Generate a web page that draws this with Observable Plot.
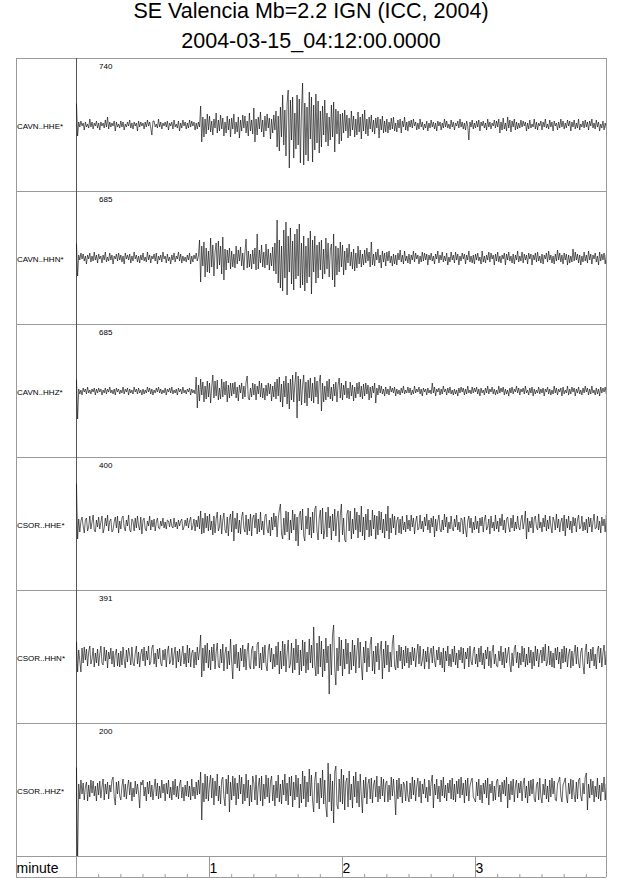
<!DOCTYPE html>
<html>
<head>
<meta charset="utf-8">
<script src="https://cdn.jsdelivr.net/npm/d3@7"></script>
<script src="https://cdn.jsdelivr.net/npm/@observablehq/plot@0.6"></script>
<style>
  body { margin: 0; background: #fff; font-family: "Liberation Sans", Arial, sans-serif; }
  #title { width: 622px; height: 57px; text-align: center; font-size: 21.5px; line-height: 30px; color: #000; }
  #title .inner { position: relative; top: -4px; }
</style>
</head>
<body>
<div id="title"><div class="inner"><div>SE Valencia Mb=2.2 IGN (ICC, 2004)</div><div>2004-03-15_04:12:00.0000</div></div></div>
<div id="chart"></div>
<script>
// ---- data (amplitudes, display units, one sample every 0.5 s; one row = 10 s) ----
const stations = ["CAVN..HHE*", "CAVN..HHN*", "CAVN..HHZ*", "CSOR..HHE*", "CSOR..HHN*", "CSOR..HHZ*"];
const peakLabels = [740, 685, 685, 400, 391, 200];
const sampleSeconds = 0.5;
const majorTickMinutes = [1, 2, 3];
const axisTitle = "minute";

const cavnHHE = [
  21,-11,3,-2,4,-1,2,-5,3,-2,1,-3,6,-2,3,-4,2,-1,4,-3,
  2,-5,3,-1,2,-3,5,-2,8,-4,3,-2,2,-1,4,-6,3,-2,1,-3,
  4,-2,3,-5,1,-2,3,-1,5,-3,2,-4,3,-1,2,-6,4,-2,3,-1,
  2,-4,3,-2,5,-1,3,-3,-10,4,4,-2,1,-3,6,-2,3,-4,2,-1,
  3,-2,4,-5,2,-1,3,-4,5,-2,1,-3,4,-6,2,-3,5,-1,3,-4,
  2,-3,5,-2,4,-1,3,-5,2,-4,3,-2,19,-17,8,-12,6,-9,11,-5,
  9,-7,4,-10,6,-3,12,-8,5,-6,10,-4,7,-11,3,-8,9,-5,6,-12,
  7,-4,11,-9,3,-7,8,-13,5,-6,10,-3,9,-8,4,-11,12,-6,5,-9,
  17,-17,6,-10,8,-4,13,-7,5,-12,9,-6,11,-3,7,-14,6,-8,10,-5,
  14,-22,9,-26,18,-12,30,-20,15,-31,22,35,-43,25,-15,28,-33,12,-24,30,
  -20,26,-38,15,42,-40,22,-30,18,-36,33,-14,28,-37,20,-25,31,-18,24,-28,
  14,-22,19,-10,25,-17,12,-21,8,-15,20,-12,23,-27,16,-9,14,-19,11,-16,
  12,-8,15,-6,10,-13,7,-11,14,-5,9,-12,6,-10,13,-7,8,-14,11,-6,
  15,-9,6,-11,8,-4,10,-7,5,-9,7,-3,8,-13,6,-5,9,-8,4,-7,
  6,-8,3,-5,7,-4,8,-6,2,-7,5,-3,6,-8,4,-2,8,-5,3,-6,
  4,-2,5,-3,6,-1,3,-5,2,-4,6,-2,3,-5,1,-3,4,-6,2,-3,
  5,-2,3,-4,2,-6,4,-1,3,-5,2,-3,6,-2,4,-3,1,-4,5,-2,
  3,-5,2,-1,4,-3,6,-2,3,-4,2,-5,4,-1,-15,3,-2,5,-4,2,
  -3,4,-2,5,-6,3,-1,4,-3,2,-5,6,-2,3,-4,2,-1,5,-3,4,
  -2,6,-8,3,-5,7,-4,2,-6,8,-3,5,-7,4,-2,6,-5,3,-4,2,
  -3,5,-2,4,-1,3,-6,2,-4,5,-3,1,-2,6,-4,3,-5,2,-1,4,
  -5,3,-2,6,-3,1,-4,5,-2,3,-6,4,-1,2,-5,3,-3,6,-2,4,
  -4,2,-3,5,-1,4,-6,3,-2,5,-4,2,-3,6,-5,1,-2,4,-3,5,
  -2,3,-5,4,-1,6,-3,2,-4,5,-2,3,-6,1,-3,4,-5,2,-3,4
];
const cavnHHN = [
  14,-18,3,-2,5,-1,4,-3,2,-6,3,-1,5,-4,2,-3,6,-2,3,-5,
  4,-1,2,-5,3,-2,6,-4,1,-3,5,-2,3,-6,2,-1,4,-3,5,-2,
  3,-4,2,-6,5,-1,3,-2,4,-5,2,-3,6,-1,3,-4,2,-5,3,-2,
  5,-3,1,-4,6,-2,3,-5,2,-1,4,-3,5,-6,2,-2,3,-4,6,-1,
  2,-5,4,-3,1,-6,3,-2,5,-4,2,-1,6,-3,4,-5,2,-3,1,-4,
  3,-2,5,-6,2,-4,3,-1,5,-3,2,18,-24,12,-8,16,-19,10,-14,7,
  -15,20,-9,13,-18,6,15,-11,17,-7,12,-16,21,-22,9,-12,8,-5,10,-11,
  7,-9,4,-10,12,-6,8,-3,11,-8,5,-12,6,19,-10,7,-9,4,-11,8,
  -6,10,-12,24,-11,8,-5,13,-9,6,-10,14,-7,9,-12,5,-8,11,-13,15,
  -16,38,-25,18,-30,12,-33,28,-20,36,-37,22,-14,30,-26,17,-32,24,-21,29,
  -18,34,-30,15,-27,22,-33,12,-25,20,-19,27,-36,18,-14,22,-25,13,-20,16,
  -12,18,-21,9,-16,20,-11,15,-19,8,14,-22,24,-29,12,-17,10,-14,16,-9,
  13,-17,7,-12,10,-5,14,-8,6,-11,9,-13,5,-10,12,-6,8,-9,4,-7,
  8,-5,10,-3,6,-9,16,-7,4,-8,6,-2,9,-5,3,-10,7,-4,5,-8,
  6,-3,7,-5,2,-8,4,-6,3,-7,5,-2,8,-4,3,-6,7,-3,2,-5,
  4,-6,3,-2,7,-4,5,-1,3,-6,2,-4,6,-3,5,-2,4,-7,3,-2,
  5,-3,2,-6,4,-1,7,-5,3,-2,6,-4,2,-3,5,-7,1,-4,6,-2,
  3,-5,6,-2,4,-7,2,-3,5,-1,4,-6,3,-2,7,-4,2,-5,3,-6,
  4,-2,5,-3,1,-6,7,-4,2,-5,3,-2,6,-4,5,-1,3,-7,4,-3,
  6,-4,2,-5,3,-1,5,-7,4,-2,6,-3,2,-5,4,-6,3,-2,7,-4,
  2,-3,6,-5,4,-2,3,-6,5,-1,4,-7,3,-2,5,-4,6,-3,2,-5,
  4,-6,3,-1,5,-4,7,-2,3,-5,2,-6,4,-3,8,-2,5,-4,3,-6,
  5,-2,4,-7,3,-5,2,-4,9,-3,6,-2,4,-5,3,-7,2,-4,6,-3,
  3,-5,7,-2,4,-6,3,-1,5,-4,2,-7,6,-3,4,-2,5,-6,3,-4
];
const cavnHHZ = [
  11,-28,2,-3,1,-4,3,-1,2,-3,4,-2,1,-3,2,-1,3,-4,2,-2,
  3,-1,2,-4,1,-2,3,-3,2,-1,4,-2,1,-3,2,-4,3,-1,2,-3,
  1,-2,4,-3,2,-1,3,-4,2,-2,1,-3,4,-1,2,-3,3,-2,1,-4,
  2,-3,1,-2,4,-1,3,-3,2,-4,1,-2,3,-1,4,-2,2,-3,1,-2,
  3,-4,2,-1,3,-2,4,-3,1,-2,2,-4,3,-1,2,-3,4,-2,1,-3,
  2,-1,3,-4,2,-2,1,-3,14,-17,6,-10,12,-4,9,-11,5,-8,10,-6,
  8,-12,4,16,-7,10,-5,11,-9,3,-8,12,-6,9,-4,10,-11,6,-7,8,
  -5,8,-3,9,-7,4,-10,6,-2,8,-8,5,-6,9,15,-7,-9,3,-6,8,
  -4,7,-9,5,-3,10,-6,8,-7,3,-9,6,-5,8,-3,7,-10,5,-6,9,
  -8,12,-5,14,-11,7,-16,10,-6,15,-13,8,-18,12,-9,16,-11,7,19,-27,
  15,-10,12,-14,6,16,-12,9,-15,11,-7,13,-10,8,-12,14,-6,10,-13,9,
  16,-20,8,-11,5,-9,10,-6,12,-8,4,-10,7,-5,9,-11,6,13,-7,8,
  -9,6,-4,10,-7,3,-8,9,-5,6,-10,4,-7,8,-3,9,-6,5,-8,7,
  -5,8,-3,6,-9,4,-7,5,-2,8,-12,3,-4,6,-2,5,-3,2,-5,4,
  -3,2,-4,5,-1,3,-2,4,-5,2,-3,1,-4,3,-2,5,-3,1,-2,4,
  -2,3,-4,1,-3,5,-2,2,-1,4,-3,2,-5,3,-1,2,-4,3,-2,1,
  -3,8,-2,4,-5,2,-1,3,-4,2,-3,5,-1,2,-4,3,-2,4,-3,1,
  -4,2,-3,1,-5,3,-2,4,-1,3,-4,2,-3,5,-2,1,-3,4,-2,3,
  -1,4,-3,2,-5,3,-2,1,-4,3,-2,5,-3,2,-1,4,-3,2,-4,1,
  -3,5,-2,3,-1,4,-4,2,-3,1,-5,3,-2,4,-3,2,-1,5,-2,3,
  -4,2,-1,3,-3,5,-2,1,-4,3,-2,4,-5,2,-3,1,-2,4,-3,2,
  -2,3,-5,2,-1,4,-3,2,-4,1,-3,5,-2,3,-4,2,-1,3,-5,4,
  -3,1,-2,5,-4,2,-3,4,-1,3,-5,2,-2,4,-3,1,-4,3,-2,5,
  -1,3,-4,2,-3,5,-2,1,-4,3,-3,2,-5,4,-2,3,-1,4,-3,2
];
const csorHHE = [
  40,-15,5,-8,3,7,-2,-9,4,6,-7,-3,8,-5,2,9,-6,-8,4,-3,
  7,-5,2,8,-9,-4,6,-2,9,-7,3,5,-8,-6,2,7,-4,8,-9,3,
  -5,6,8,-3,-7,4,-2,9,-6,-8,5,3,-7,6,-4,8,-2,-6,7,-10,
  4,6,-5,-7,3,-2,8,-6,4,-3,5,-7,2,6,-4,-5,3,-2,6,-4,
  2,-5,4,3,-3,5,-2,-4,6,-3,2,-5,4,-2,3,5,-6,-3,4,-2,
  6,-4,3,7,-6,-2,5,-7,4,-3,8,-5,13,-10,6,-9,11,-4,8,-7,
  10,-6,3,-11,8,-9,5,12,-7,-3,9,-10,4,11,-6,-9,7,-12,5,10,
  -8,13,-17,6,-5,11,-9,4,-10,7,12,-4,-8,9,-11,5,-7,10,-12,6,
  9,-4,11,-10,5,-8,12,-6,3,-11,8,10,-5,-9,4,-12,7,-6,11,-3,
  8,-13,5,14,20,-10,-15,6,-11,13,-8,12,-16,4,-9,14,-6,10,-17,7,
  -22,9,13,-6,15,-12,-17,8,-5,16,-11,7,-14,12,-9,15,18,-7,-16,6,
  14,-10,16,-15,-6,12,-13,17,-4,8,-16,10,-7,15,-12,6,13,-18,9,20,
  -11,6,-16,-18,10,14,-7,13,-15,5,-10,16,-6,12,-14,9,-8,18,-12,7,
  -16,10,-6,15,-13,4,-12,14,-5,9,-15,8,-11,13,-6,12,-9,5,-14,10,
  -7,18,-15,6,-9,10,-4,8,-11,3,7,-9,5,-10,8,-6,2,-8,9,-5,
  4,-7,9,-3,6,-10,2,8,-6,-4,9,-5,3,-8,7,-2,10,-6,4,-9,
  6,-3,8,-13,5,-7,3,9,-5,-8,4,-6,10,-3,7,-9,2,-5,8,-4,
  -7,5,-3,9,-6,2,-8,6,4,-10,7,-5,-13,3,8,-4,6,-9,2,-6,
  8,-5,3,-9,6,-2,7,-8,4,9,-6,-3,5,-10,8,-4,2,-7,9,-5,
  3,-8,6,-2,10,-6,4,-9,5,7,-3,-8,6,-4,9,-7,2,-5,8,-3,
  -6,4,9,-5,2,13,-15,6,-8,3,-4,7,-9,5,8,-3,-6,10,-4,2,
  -8,6,-3,9,-7,4,-5,8,-2,-9,7,3,-6,10,-4,5,-8,2,6,-7,
  9,-12,5,-4,8,-6,3,-9,7,-2,6,-8,4,9,-5,-3,8,-7,2,-6,
  5,-9,7,-3,6,-8,2,10,-5,-4,8,-6,3,-9,7,-2,5,-8,9,-4
];
const csorHHN = [
  15,-15,7,-4,-15,9,-6,10,-3,8,-9,5,11,-7,-2,9,-10,4,-6,8,
  -9,3,11,-6,-8,10,-4,7,-11,5,-2,9,-7,6,-10,3,8,-9,4,-10,
  6,-8,10,-3,-11,7,-5,9,2,-8,10,-6,-9,4,11,-7,5,-10,3,8,
  -4,10,-9,6,-3,11,-8,-5,9,12,-7,4,-10,8,-2,9,-6,-9,7,-3,
  8,-10,5,11,-7,-4,9,-8,3,10,-11,6,-5,8,-9,2,11,-7,4,-10,
  12,-6,9,-10,4,7,-11,5,-8,10,-3,6,22,-20,9,-14,12,-6,14,-11,
  7,-13,10,-4,13,-12,5,14,-9,-11,8,-6,13,-14,4,10,-12,6,-8,18,
  -5,-22,12,-7,13,-11,5,-14,9,-4,12,-10,8,-13,6,14,-9,-12,7,11,
  -12,6,-9,13,15,-11,4,-13,10,-6,12,-8,-14,7,13,-5,9,-12,3,-10,
  11,-8,15,-17,6,-12,16,-9,13,-15,4,17,-11,-7,14,-16,9,-13,18,-6,
  12,-18,7,-14,17,-9,15,-16,5,-13,18,-6,12,-11,30,-8,-19,14,-17,21,
  -10,16,-20,8,-14,19,-6,11,-37,13,-18,22,32,-12,-28,9,-14,20,-9,17,
  -19,8,-12,18,-7,14,-17,5,-13,17,-9,12,-16,6,19,-11,15,-8,-23,10,
  -6,16,-15,9,-10,13,20,-14,6,-17,11,-5,14,-13,7,16,-22,8,-11,16,
  -8,12,-15,5,-10,14,22,-9,-13,6,-11,12,-4,10,-12,7,-9,11,-6,9,
  -11,5,-8,10,-4,9,-10,3,13,-7,11,-9,-4,8,-12,6,-5,10,-12,4,
  9,-6,11,-4,-10,7,-3,10,-8,5,-11,9,-15,6,-4,11,-9,3,-10,8,
  -5,11,-8,4,-11,7,-3,10,-6,9,-12,5,-2,9,-10,11,-4,-8,6,10,
  -7,3,-10,9,-5,11,-8,4,-12,7,-2,10,-9,6,-11,5,12,-7,3,-9,
  -10,6,-4,11,-8,5,-11,9,-6,3,10,-7,-15,4,-9,8,12,-6,5,-11,
  4,-8,11,-5,9,-10,3,-8,10,-6,7,-12,5,-9,11,-4,8,-10,2,7,
  -6,10,-4,13,-9,-5,11,-8,6,-10,4,-11,9,-3,10,-7,5,-12,8,-6,
  11,-5,9,-10,3,8,-11,6,-9,4,12,-7,10,-6,-11,5,9,-8,-17,6,
  13,-7,5,-11,8,-4,10,-9,3,-12,7,11,-6,9,-10,4,12,-8,6,-9
];
const csorHHZ = [
  22,-70,6,-9,10,-4,7,-10,3,8,-11,5,-7,10,-3,9,-6,4,-11,7,
  -5,9,-8,3,11,-10,6,-4,8,-9,5,-2,10,13,-7,-15,8,-4,9,-6,
  -10,4,11,-7,6,-9,3,10,-5,8,-11,2,-7,9,-4,6,-3,-18,8,5,
  10,-6,3,-11,8,-4,9,-7,5,-10,2,11,-6,7,-9,4,-8,10,-3,6,
  -11,7,-4,10,-8,3,-10,9,-5,11,-7,4,-9,6,10,-8,3,-11,5,-6,
  9,-7,4,-10,11,-6,3,-9,8,-5,10,-4,18,-30,7,-12,16,-9,14,-11,
  6,15,-8,12,-15,9,-6,16,-11,4,-14,10,13,-7,-16,11,-4,15,-22,8,
  -10,14,-6,12,-15,7,-9,15,-4,13,-14,6,-11,16,-8,10,-16,5,-12,14,
  7,-10,15,-15,4,12,-11,14,-16,6,-9,15,-7,12,-13,8,14,-11,5,-16,
  9,-8,15,-12,6,-14,10,-5,16,-11,7,-15,13,-6,14,-17,8,-10,15,-7,
  12,-18,6,-13,19,-9,14,-17,8,-12,21,-6,15,-11,-22,10,18,-13,7,-19,
  12,-8,20,-14,10,-17,-27,27,-12,16,-21,9,-33,18,24,-15,-19,11,-12,21,
  -14,15,-20,8,12,-17,19,-10,6,-18,14,-7,18,-13,9,-17,16,-6,-23,10,
  -8,13,-14,6,11,-9,12,-13,5,10,-7,14,-12,4,-9,13,-6,11,-12,7,
  9,-12,5,-10,13,-6,11,-4,-25,10,-9,12,-7,6,-13,8,5,-11,9,-6,
  -12,7,-9,13,-5,10,-11,4,12,-7,9,-13,6,-4,11,-8,3,-12,10,-6,
  8,15,-18,6,-5,11,-9,4,-12,10,-6,13,-8,5,-11,7,-3,10,-9,12,
  -10,6,-12,9,-4,11,-8,13,-5,7,-13,10,-6,12,-11,4,9,12,-7,-9,
  -12,8,-6,11,-10,5,-13,7,-4,10,-8,12,-15,6,-3,9,-11,4,-10,9,
  11,-7,5,-12,8,-4,10,-6,13,-18,6,-10,9,-5,11,-12,4,10,-8,7,
  -3,9,-11,6,12,-8,4,-13,9,-6,10,-4,11,-9,-12,5,8,-10,12,-7,
  -13,6,-5,11,-9,4,-12,10,-7,12,-4,9,-10,-11,6,9,13,-6,-12,5,
  8,12,-6,-13,7,-4,11,-9,10,-5,-12,8,-9,10,12,-6,-11,7,-4,13,
  17,-20,6,-8,11,-5,9,-12,4,-7,12,-9,5,-11,7,-2,13,-10,6,-6
];
const traces = [cavnHHE, cavnHHN, cavnHHZ, csorHHE, csorHHN, csorHHZ];

// ---- layout constants ----
const PX_PER_MIN = 133;
const labelColumnSeconds = 60 * 60 / PX_PER_MIN;     // left label column width in time units
const endSeconds = 530 * 60 / PX_PER_MIN;            // right edge of record window
const halfPanel = 66.5;

// ---- tables built from the arrays ----
const rows = [];
traces.forEach((vals, k) => vals.forEach((v, i) => rows.push({station: stations[k], t: i * sampleSeconds, v})));
const meta = stations.map((s, k) => ({station: s, peak: peakLabels[k]}));
const majorTicks = [-labelColumnSeconds, 0, ...majorTickMinutes.map(m => m * 60), endSeconds];
const minorTicks = d3.range(10, endSeconds, 10).filter(d => d % 60 !== 0);

const chart = Plot.plot({
  width: 640,
  height: 821,
  marginTop: 1,
  marginBottom: 22,
  marginLeft: 16,
  marginRight: 34,
  style: {fontFamily: "'Liberation Sans', Arial, sans-serif", background: "#fff", display: "block", overflow: "visible"},
  x: {domain: [-labelColumnSeconds, endSeconds]},
  y: {domain: [-halfPanel, halfPanel], axis: null},
  fy: {domain: stations, axis: null, padding: 0},
  marks: [
    Plot.frame({stroke: "#9a9a9a"}),
    Plot.ruleX([0], {stroke: "#555"}),
    Plot.line(rows, {x: "t", y: "v", fy: "station", stroke: "#000", strokeWidth: 0.6, clip: true}),
    Plot.text(meta, {fy: "station", text: "station", frameAnchor: "left", textAnchor: "start", dx: 0.5, dy: 1.5, fontSize: 8, fill: "#000"}),
    Plot.text(meta, {fy: "station", text: d => String(d.peak), frameAnchor: "top-left", textAnchor: "start", lineAnchor: "top", dx: 82.5, dy: 5, fontSize: 8, fill: "#000"}),
    Plot.axisX({
      anchor: "bottom",
      ticks: majorTicks,
      tickSize: 21,
      tickPadding: -14,
      tickFormat: d => d === majorTicks[0] ? axisTitle : (d > 0 && d < endSeconds ? String(d / 60) : ""),
      textAnchor: "start",
      fontSize: 14,
      stroke: "#9a9a9a",
      fill: "#000",
      label: null
    }),
    Plot.axisX({
      anchor: "bottom",
      ticks: minorTicks,
      tickSize: 3,
      dy: 18,
      tickFormat: () => "",
      stroke: "#9a9a9a",
      label: null
    }),
    Plot.ruleY([-halfPanel], {fy: () => stations[stations.length - 1], dy: 21, stroke: "#9a9a9a"})
  ]
});
document.getElementById("chart").appendChild(chart);
</script>
</body>
</html>
